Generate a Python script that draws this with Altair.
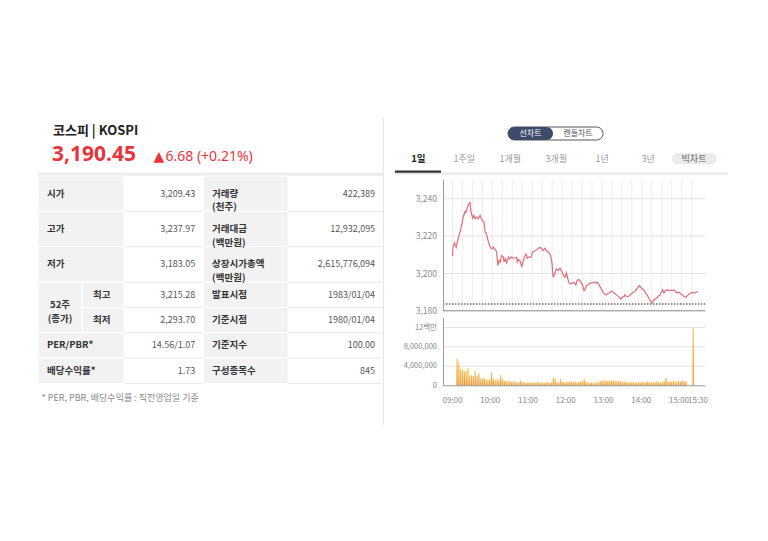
import altair as alt
import pandas as pd

FONT = "Noto Sans CJK KR"
LATIN = "Noto Sans"
RED = "#e8353b"

# ---------------- data ----------------
INDEX_NAME = "코스피 | KOSPI"
LAST_PRICE = "3,190.45"
CHANGE_ARROW = "▲"
CHANGE_TEXT = "6.68 (+0.21%)"
FOOTNOTE = "* PER, PBR, 배당수익률 : 직전영업일 기준"

LEFT_LABELS = ["시가", "고가", "저가", "52주\n(종가)", "PER/PBR*", "배당수익률*"]
SUB_LABELS = ["최고", "최저"]
LEFT_VALUES = ["3,209.43", "3,237.97", "3,183.05", "3,215.28", "2,293.70", "14.56/1.07", "1.73"]
RIGHT_LABELS = ["거래량\n(천주)", "거래대금\n(백만원)", "상장시가총액\n(백만원)", "발표시점", "기준시점", "기준지수", "구성종목수"]
RIGHT_VALUES = ["422,389", "12,932,095", "2,615,776,094", "1983/01/04", "1980/01/04", "100.00", "845"]

TOGGLE = ["선차트", "캔들차트"]
TABS = ["1일", "1주일", "1개월", "3개월", "1년", "3년", "빅차트"]

PREV_CLOSE = 3183.77
PRICE_TICKS = [3240, 3220, 3200, 3180]
PRICE_TICK_LABELS = ["3,240", "3,220", "3,200", "3,180"]
VOL_TICKS = [0, 4, 8, 12]
VOL_TICK_LABELS = ["0", "4,000,000", "8,000,000", "12백만"]
TIME_TICKS = ["09:00", "10:00", "11:00", "12:00", "13:00", "14:00", "15:00", "15:30"]

LINE_TIMES = [
    "09:00", "09:01", "09:03", "09:06", "09:07", "09:09", "09:12", "09:15", "09:17", "09:20",
    "09:21", "09:24", "09:26", "09:28", "09:29", "09:32", "09:34", "09:36", "09:38", "09:41",
    "09:44", "09:45", "09:47", "09:50", "09:52", "09:54", "09:57", "09:59",
    "10:02", "10:05", "10:07", "10:10", "10:12", "10:14", "10:16", "10:18", "10:21", "10:22",
    "10:24", "10:26", "10:29", "10:31", "10:34", "10:36", "10:39", "10:42", "10:43", "10:45",
    "10:48", "10:50", "10:52", "10:55", "10:57", "10:59",
    "11:01", "11:05", "11:07", "11:09", "11:12", "11:15", "11:17", "11:19", "11:22", "11:24",
    "11:27", "11:29", "11:33", "11:36", "11:38", "11:40", "11:43", "11:45", "11:48", "11:51",
    "11:53", "11:56", "11:59",
    "12:01", "12:05", "12:08", "12:13", "12:16", "12:18", "12:21", "12:24", "12:27", "12:29",
    "12:31", "12:33", "12:36", "12:39", "12:42", "12:45", "12:48", "12:50", "12:52", "12:55",
    "12:58",
    "13:00", "13:04", "13:06", "13:09", "13:12", "13:14", "13:17", "13:19", "13:22", "13:25",
    "13:27", "13:30", "13:33", "13:34", "13:36", "13:39", "13:42", "13:44", "13:47", "13:50",
    "13:52", "13:55", "13:57", "13:59",
    "14:01", "14:04", "14:07", "14:10", "14:12", "14:15", "14:17", "14:19", "14:21", "14:24",
    "14:27", "14:29", "14:32", "14:34", "14:36", "14:38", "14:41", "14:44", "14:47", "14:49",
    "14:52", "14:55", "14:57",
    "15:00", "15:03", "15:05", "15:08", "15:11", "15:13", "15:16", "15:19", "15:21", "15:24",
    "15:27", "15:30",
]
LINE_VALUES = [
    3209.43, 3214.1, 3216.4, 3214.1, 3215.9, 3218.6, 3222.1, 3226.1, 3230.2, 3233.2,
    3232.5, 3235.5, 3237.3, 3237.97, 3233.8, 3229.6, 3231.1, 3229.3, 3230.2, 3229.3,
    3231.1, 3230.2, 3228.4, 3227.5, 3222.1, 3221.3, 3217.1, 3215.0,
    3213.2, 3214.1, 3213.2, 3211.8, 3204.3, 3207.0, 3206.1, 3209.6, 3208.8, 3206.1,
    3207.9, 3205.7, 3208.8, 3207.9, 3208.8, 3208.4, 3208.2, 3208.6, 3206.1, 3207.5,
    3206.4, 3203.4, 3206.1, 3209.3, 3210.5, 3208.2,
    3208.8, 3208.8, 3211.4, 3211.8, 3212.3, 3213.2, 3213.6, 3214.1, 3213.2, 3212.3,
    3213.6, 3212.3, 3211.4, 3209.6, 3206.1, 3198.0, 3200.4, 3202.5, 3201.6, 3202.9,
    3201.6, 3199.3, 3198.0,
    3200.4, 3195.0, 3194.5, 3195.4, 3193.9, 3196.3, 3196.8, 3195.4, 3193.6, 3190.9,
    3191.8, 3193.6, 3194.1, 3195.0, 3195.0, 3195.4, 3194.8, 3195.4, 3194.5, 3192.7,
    3190.9,
    3189.6, 3188.6, 3189.1, 3189.6, 3190.4, 3190.5, 3189.6, 3189.1, 3188.2, 3187.3,
    3186.4, 3187.3, 3187.9, 3188.6, 3187.9, 3187.7, 3188.6, 3189.1, 3190.0, 3190.4,
    3191.4, 3192.7, 3193.6, 3192.7,
    3191.8, 3191.4, 3189.6, 3188.2, 3186.8, 3185.0, 3184.3, 3185.5, 3186.1, 3186.8,
    3187.9, 3188.2, 3190.0, 3191.4, 3189.6, 3190.9, 3191.4, 3190.9, 3191.2, 3190.9,
    3191.2, 3190.4, 3189.6,
    3190.0, 3189.1, 3188.6, 3187.7, 3187.3, 3188.2, 3189.1, 3189.6, 3190.0, 3189.6,
    3190.0, 3190.45,
]

# volume (millions of shares), one reading every 3 minutes from 09:00 to 15:18
VOL_STEP_MIN = 3
VOL_VALUES = [
    5.6, 4.8, 3.5, 3.3, 3.1, 3.1, 3.6, 2.1, 2.2, 2.0,
    3.1, 2.0, 2.6, 1.5, 1.5, 1.7, 1.2, 1.4, 1.3, 2.8,
    1.5, 1.2, 1.4, 1.2, 2.2, 1.4, 1.0, 1.0, 0.9, 1.0,
    0.8, 0.9, 0.8, 0.7, 0.8, 1.1, 0.8, 0.7, 0.6, 0.8,
    0.7, 0.6, 0.7, 0.6, 0.8, 0.7, 0.6, 0.7, 0.6, 0.7,
    0.8, 0.6, 0.7, 1.7, 1.4, 0.8, 0.7, 1.4, 0.8, 0.7,
    0.8, 0.8, 1.0, 0.8, 0.8, 0.9, 0.7, 0.8, 0.9, 1.0,
    1.4, 0.8, 0.7, 0.6, 0.7, 0.6, 0.7, 0.6, 0.8, 0.9,
    1.1, 1.0, 1.1, 1.0, 1.1, 1.0, 1.1, 1.0, 1.0, 0.9,
    1.0, 0.8, 0.9, 0.8, 0.7, 0.8, 0.7, 0.8, 0.6, 0.7,
    0.8, 0.7, 0.8, 0.7, 0.8, 0.9, 0.8, 0.7, 0.8, 0.7,
    0.9, 0.8, 0.7, 0.8, 1.0, 1.6, 0.9, 0.8, 0.9, 1.0,
    0.9, 0.8, 1.0, 0.9, 1.0, 1.0, 0.9,
]
CLOSE_AUCTION_TIME = "15:30"
CLOSE_AUCTION_VOL = 11.8


# ---------------- helpers ----------------
def px(v):
    """page pixel -> chart pixel (the page has an 8px margin)"""
    return v - 8


def minutes(hhmm):
    h, m = hhmm.split(":")
    return (int(h) - 9) * 60 + int(m)


ONE = alt.Data(values=[{}])


def txt(text, x, y, size, color, weight="normal", align="left", font=FONT):
    return alt.Chart(alt.Data(values=[{"t": text}])).mark_text(
        align=align, baseline="middle", font=font, fontSize=size,
        fontWeight=weight, color=color,
    ).encode(x=alt.value(px(x)), y=alt.value(px(y)), text="t:N")


def box(x1, x2, y1, y2, fill, radius=0, stroke=None, sw=1.0):
    kw = dict(fill=fill, cornerRadius=radius)
    if stroke:
        kw.update(stroke=stroke, strokeWidth=sw)
    return alt.Chart(ONE).mark_rect(**kw).encode(
        x=alt.value(px(x1)), x2=alt.value(px(x2)),
        y=alt.value(px(y1)), y2=alt.value(px(y2)))


def hline(x1, x2, y, color, width=1.0, dash=None):
    kw = dict(color=color, strokeWidth=width)
    if dash:
        kw["strokeDash"] = dash
    return alt.Chart(ONE).mark_rule(**kw).encode(
        x=alt.value(px(x1)), x2=alt.value(px(x2)), y=alt.value(px(y)))


def vline(x, y1, y2, color, width=1.0):
    return alt.Chart(ONE).mark_rule(color=color, strokeWidth=width).encode(
        x=alt.value(px(x)), y=alt.value(px(y1)), y2=alt.value(px(y2)))


layers = []

# ---------------- header (left) ----------------
layers += [
    txt(INDEX_NAME, 53, 131, 13, "#222222", "bold"),
    txt(LAST_PRICE, 52, 155, 21, RED, "bold", font=LATIN),
    txt(CHANGE_ARROW, 153.5, 156.5, 14, RED, font="DejaVu Sans"),
    txt(CHANGE_TEXT, 165.5, 157, 14, RED, font=LATIN),
    vline(383.5, 118, 425, "#e6e6e6"),
    box(38, 383, 172.5, 176, "#eeeeee"),
]

# ---------------- table ----------------
ROW_H = [1.4, 1.4, 1.4, 1, 1, 1, 1]
EDGES = [0.0]
for h in ROW_H:
    EDGES.append(EDGES[-1] + h)
COLS = [0.0, 0.128, 0.25, 0.48, 0.727, 1.0]
TX = alt.Scale(domain=[0, 1], range=[px(38), px(382)], nice=False, zero=False)
TY = alt.Scale(domain=[0, EDGES[-1]], range=[px(176), px(383.3)], nice=False, zero=False)

cells = []
for r in range(7):
    y0, y1 = EDGES[r], EDGES[r + 1]
    if r in (3, 4):
        cells.append(dict(x0=COLS[1], x1=COLS[2], y0=y0, y1=y1))
    else:
        cells.append(dict(x0=COLS[0], x1=COLS[2], y0=y0, y1=y1))
    cells.append(dict(x0=COLS[3], x1=COLS[4], y0=y0, y1=y1))
cells.append(dict(x0=COLS[0], x1=COLS[1], y0=EDGES[3], y1=EDGES[5]))
cells_df = pd.DataFrame(cells)
layers.append(
    alt.Chart(cells_df).mark_rect(fill="#f2f2f2", stroke="white", strokeWidth=1).encode(
        x=alt.X("x0:Q", scale=TX, axis=None), x2="x1:Q",
        y=alt.Y("y0:Q", scale=TY, axis=None), y2="y1:Q")
)
seps = []
for r in range(1, 8):
    for a, b in [(COLS[2], COLS[3]), (COLS[4], COLS[5])]:
        seps.append(dict(x0=a, x1=b, y=EDGES[r]))
layers.append(
    alt.Chart(pd.DataFrame(seps)).mark_rule(color="#e8e8e8", strokeWidth=1).encode(
        x=alt.X("x0:Q", scale=TX, axis=None), x2="x1:Q",
        y=alt.Y("y:Q", scale=TY, axis=None))
)


def center(r):
    return (EDGES[r] + EDGES[r + 1]) / 2


bold_left = []
for lab, r in zip([LEFT_LABELS[i] for i in (0, 1, 2, 4, 5)], [0, 1, 2, 5, 6]):
    bold_left.append(dict(t=lab, x=0.026, y=center(r)))
for lab, r in zip(SUB_LABELS, [3, 4]):
    bold_left.append(dict(t=lab, x=0.160, y=center(r)))
for r, lab in enumerate(RIGHT_LABELS):
    bold_left.append(dict(t=lab, x=0.506, y=center(r)))
layers.append(
    alt.Chart(pd.DataFrame(bold_left)).mark_text(
        align="left", baseline="middle", font=FONT, fontSize=9.5, fontWeight="bold",
        color="#333333", lineBreak="\n", lineHeight=13.5).encode(
        x=alt.X("x:Q", scale=TX, axis=None), y=alt.Y("y:Q", scale=TY, axis=None), text="t:N")
)
layers.append(
    alt.Chart(pd.DataFrame([dict(t=LEFT_LABELS[3], x=0.064, y=EDGES[4] - 0.08)])).mark_text(
        align="center", baseline="middle", font=FONT, fontSize=9.5, fontWeight="bold",
        color="#333333", lineBreak="\n", lineHeight=13.5).encode(
        x=alt.X("x:Q", scale=TX, axis=None), y=alt.Y("y:Q", scale=TY, axis=None), text="t:N")
)
vals = []
for r, v in enumerate(LEFT_VALUES):
    vals.append(dict(t=v, x=0.457, y=center(r)))
for r, v in enumerate(RIGHT_VALUES):
    vals.append(dict(t=v, x=0.980, y=center(r)))
layers.append(
    alt.Chart(pd.DataFrame(vals)).mark_text(
        align="right", baseline="middle", font=FONT, fontSize=9, color="#555555").encode(
        x=alt.X("x:Q", scale=TX, axis=None), y=alt.Y("y:Q", scale=TY, axis=None), text="t:N")
)
layers.append(txt(FOOTNOTE, 41.5, 397.7, 9, "#888888"))

# ---------------- right header: toggle + tabs ----------------
layers += [
    box(508, 603, 127, 140, "white", radius=6.5, stroke="#555555", sw=1),
    box(508, 553, 127, 140, "#3d4a6a", radius=6.5),
    txt(TOGGLE[0], 530.5, 133.5, 8, "white", align="center"),
    txt(TOGGLE[1], 578, 133.5, 8, "#555555", align="center"),
    box(395, 728, 172.5, 174.5, "#e6e6e6"),
    box(395, 441, 170.5, 172.8, "#333333"),
    box(671.7, 716.7, 153.3, 164.3, "#ebebeb", radius=5.5),
]
TABX = alt.Scale(domain=[0, len(TABS) - 1], range=[px(418.3), px(694)], nice=False, zero=False)
tabs_df = pd.DataFrame({"t": TABS, "i": list(range(len(TABS)))})
tabs_df["c"] = ["#222222"] + ["#999999"] * (len(TABS) - 2) + ["#666666"]
tabs_df["w"] = ["sel"] + ["no"] * (len(TABS) - 1)
layers.append(
    alt.Chart(tabs_df).transform_filter("datum.w == 'sel'").mark_text(
        align="center", baseline="middle", font=FONT, fontSize=9.5, fontWeight="bold").encode(
        x=alt.X("i:Q", scale=TABX, axis=None), y=alt.value(px(158.8)), text="t:N",
        color=alt.Color("c:N", scale=None))
)
layers.append(
    alt.Chart(tabs_df).transform_filter("datum.w != 'sel'").mark_text(
        align="center", baseline="middle", font=FONT, fontSize=9).encode(
        x=alt.X("i:Q", scale=TABX, axis=None), y=alt.value(px(158.8)), text="t:N",
        color=alt.Color("c:N", scale=None))
)

# ---------------- price line chart ----------------
XT = alt.Scale(domain=[-15, 402], range=[px(443), px(705.5)], nice=False, zero=False)
YP = alt.Scale(domain=[3180, 3250], range=[px(311), px(180)], nice=False, zero=False)
YV = alt.Scale(domain=[0, 14], range=[px(385.7), px(317.8)], nice=False, zero=False)

grid_min = [i * 380 / 24 for i in range(25)]
layers.append(
    alt.Chart(pd.DataFrame({"m": grid_min})).mark_rule(color="#ececec", strokeWidth=1).encode(
        x=alt.X("m:Q", scale=XT, axis=None), y=alt.value(px(180)), y2=alt.value(px(310.5)))
)
layers.append(
    alt.Chart(pd.DataFrame({"v": PRICE_TICKS[:3]})).mark_rule(color="#e2e2e2", strokeWidth=1).encode(
        y=alt.Y("v:Q", scale=YP, axis=None), x=alt.value(px(443)), x2=alt.value(px(705.5)))
)
line_df = pd.DataFrame({"m": [minutes(t) for t in LINE_TIMES], "v": LINE_VALUES})
layers.append(
    alt.Chart(line_df).mark_line(color="#e06c78", strokeWidth=1.2).encode(
        x=alt.X("m:Q", scale=XT, axis=None), y=alt.Y("v:Q", scale=YP, axis=None))
)
layers.append(
    alt.Chart(pd.DataFrame({"v": [PREV_CLOSE]})).mark_rule(
        color="#666666", strokeWidth=1.4, strokeDash=[1.5, 1.5]).encode(
        y=alt.Y("v:Q", scale=YP, axis=None), x=alt.value(px(443)), x2=alt.value(px(705)))
)
layers += [
    vline(443.5, 179.5, 311, "#999999"),
    hline(443, 705.5, 310.8, "#888888"),
]
layers.append(
    alt.Chart(pd.DataFrame({"v": PRICE_TICKS, "t": PRICE_TICK_LABELS})).mark_text(
        align="right", baseline="middle", font=FONT, fontSize=8.5, color="#888888").encode(
        y=alt.Y("v:Q", scale=YP, axis=None), x=alt.value(px(437)), text="t:N")
)

# ---------------- volume bar chart ----------------
layers.append(
    alt.Chart(pd.DataFrame({"v": VOL_TICKS[1:]})).mark_rule(color="#e4e4e4", strokeWidth=1).encode(
        y=alt.Y("v:Q", scale=YV, axis=None), x=alt.value(px(443)), x2=alt.value(px(705.5)))
)
vol_df = pd.DataFrame({
    "m": [i * VOL_STEP_MIN for i in range(len(VOL_VALUES))] + [minutes(CLOSE_AUCTION_TIME)],
    "v": VOL_VALUES + [CLOSE_AUCTION_VOL],
})
grad = alt.Gradient(
    gradient="linear",
    stops=[alt.GradientStop(color="#ee8a1c", offset=0), alt.GradientStop(color="#f8c868", offset=1)],
    x1=0, x2=0, y1=1, y2=0,
)
layers.append(
    alt.Chart(vol_df).mark_bar(color=grad, width=1.3).encode(
        x=alt.X("m:Q", scale=XT, axis=None), y=alt.Y("v:Q", scale=YV, axis=None),
        y2=alt.datum(0))
)
layers += [
    vline(443.5, 318, 386, "#999999"),
    hline(443, 705.5, 385.8, "#999999"),
]
layers.append(
    alt.Chart(pd.DataFrame({"v": VOL_TICKS, "t": VOL_TICK_LABELS})).mark_text(
        align="right", baseline="middle", font=FONT, fontSize=7.5, color="#888888").encode(
        y=alt.Y("v:Q", scale=YV, axis=None), x=alt.value(px(437)), text="t:N")
)
layers.append(
    alt.Chart(pd.DataFrame({"m": [minutes(t) for t in TIME_TICKS], "t": TIME_TICKS})).mark_text(
        align="center", baseline="middle", font=FONT, fontSize=8, color="#888888").encode(
        x=alt.X("m:Q", scale=XT, axis=None), y=alt.value(px(400.5)), text="t:N")
)

chart = alt.layer(*layers).resolve_scale(x="independent", y="independent").properties(
    width=752, height=525, padding=0,
    autosize=alt.AutoSizeParams(type="none"),
    background="white",
).configure_view(stroke=None)

chart.save("out.html", embed_options={"renderer": "svg", "actions": False})
